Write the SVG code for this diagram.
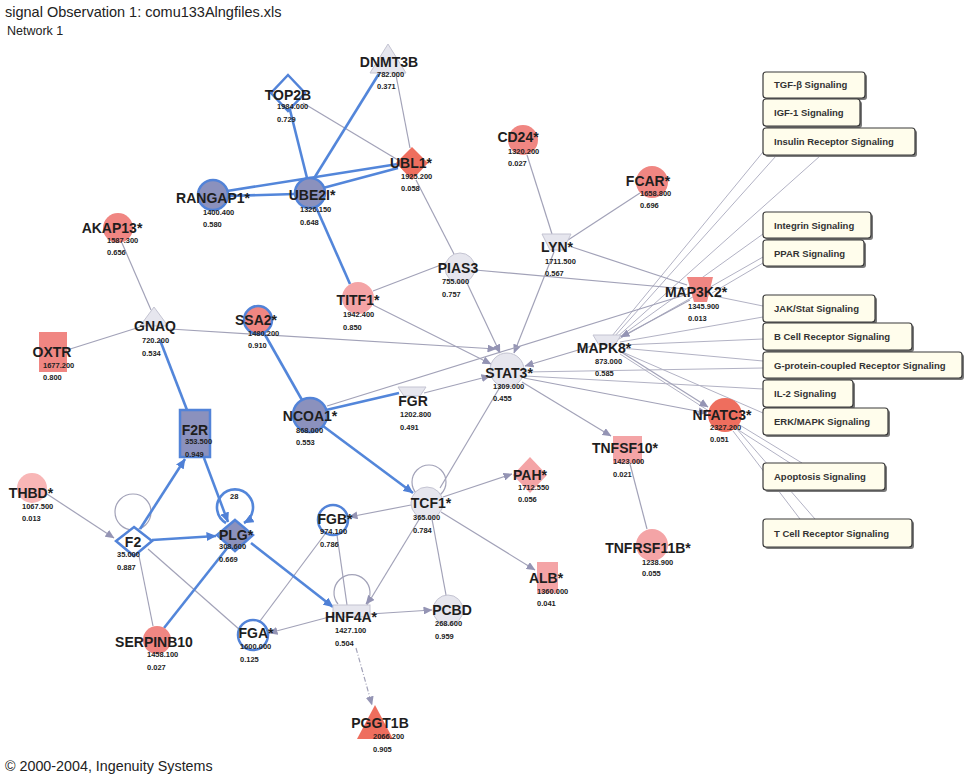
<svg xmlns="http://www.w3.org/2000/svg" width="968" height="776" viewBox="0 0 968 776">
<style>
.hd{font-family:"Liberation Sans",Arial,sans-serif;fill:#222}
.lb{font-family:"Liberation Sans",Arial,sans-serif;font-size:14px;font-weight:bold;fill:#1e1e1e;text-anchor:middle}
.nm{font-family:"Liberation Sans",Arial,sans-serif;font-size:7.5px;font-weight:bold;fill:#222}
.sg{font-family:"Liberation Sans",Arial,sans-serif;font-size:9.5px;font-weight:bold;fill:#333}
.red{fill:#f08682}
.pink{fill:#f4a4a6}
.dred{fill:#ee6e5e}
.gray{fill:#e6e6ee;stroke:#c4c4d2;stroke-width:1}
.bg{fill:#8b91bd;stroke:#5283d8;stroke-width:2.5}
.wb{fill:#ffffff;stroke:#5283d8;stroke-width:2.5}
.rb{fill:#f08682;stroke:#5283d8;stroke-width:2.5}
.e{stroke:#a2a2b8;stroke-width:1.2;fill:none}
.es{stroke:#b2b2c4;stroke-width:1;fill:none}
.eb{stroke:#5386da;stroke-width:2.6;fill:none}
.box{fill:#fffdec;stroke:#3a3a3a;stroke-width:1.2}
.sh{fill:#7a7a7a}
</style>
<defs>
<marker id="ag" markerWidth="9" markerHeight="8" refX="8.5" refY="4" orient="auto" markerUnits="userSpaceOnUse"><path d="M0,0 L9,4 L0,8 Z" fill="#9494b4"/></marker>
<marker id="ab" markerWidth="10" markerHeight="9" refX="9.5" refY="4.5" orient="auto" markerUnits="userSpaceOnUse"><path d="M0,0 L10,4.5 L0,9 Z" fill="#4f80d6"/></marker>
</defs>
<rect width="968" height="776" fill="#ffffff"/>
<text class="hd" x="5" y="17" font-size="14.5">signal Observation 1: comu133Alngfiles.xls</text>
<text class="hd" x="7" y="35" font-size="12.5">Network 1</text>
<text class="hd" x="5" y="771" font-size="14.3">© 2000-2004, Ingenuity Systems</text>

<g id="connectors">
<!-- signaling links -->
<line class="es" x1="612" y1="336" x2="763" y2="152"/>
<line class="es" x1="614" y1="337" x2="776" y2="156"/>
<line class="es" x1="616" y1="338" x2="820" y2="156"/>
<line class="es" x1="618" y1="338" x2="763" y2="234"/>
<line class="es" x1="619" y1="339" x2="763" y2="257"/>
<line class="es" x1="712" y1="293" x2="763" y2="263"/>
<line class="es" x1="714" y1="296" x2="763" y2="306"/>
<line class="es" x1="620" y1="342" x2="763" y2="317"/>
<line class="es" x1="621" y1="345" x2="763" y2="339"/>
<line class="es" x1="621" y1="348" x2="763" y2="361"/>
<line class="es" x1="525" y1="372" x2="763" y2="368"/>
<line class="es" x1="525" y1="376" x2="763" y2="389"/>
<line class="es" x1="620" y1="351" x2="763" y2="413"/>
<line class="es" x1="620" y1="354" x2="790" y2="463"/>
<line class="es" x1="738" y1="424" x2="802" y2="463"/>
<line class="es" x1="736" y1="428" x2="815" y2="519"/>
<line class="es" x1="733" y1="431" x2="800" y2="519"/>
<!-- gray network edges -->
<line class="e" x1="303" y1="103" x2="398" y2="160"/>
<line class="e" x1="395" y1="70" x2="410" y2="148"/>
<line class="e" x1="416" y1="180" x2="454" y2="254"/>
<line class="e" x1="527" y1="155" x2="552" y2="234"/>
<line class="e" x1="640" y1="193" x2="568" y2="240"/>
<line class="e" x1="122" y1="243" x2="151" y2="310"/>
<line class="e" x1="67" y1="350" x2="140" y2="327"/>
<line class="e" x1="170" y1="329" x2="496" y2="349" marker-end="url(#ag)"/>
<line class="e" x1="373" y1="291" x2="446" y2="263"/>
<line class="e" x1="467" y1="283" x2="500" y2="353" marker-end="url(#ag)"/>
<line class="e" x1="475" y1="270" x2="686" y2="289"/>
<line class="e" x1="554" y1="252" x2="514" y2="353" marker-end="url(#ag)"/>
<line class="e" x1="572" y1="247" x2="687" y2="285"/>
<line class="e" x1="373" y1="305" x2="491" y2="364" marker-end="url(#ag)"/>
<line class="e" x1="595" y1="345" x2="525" y2="366" marker-end="url(#ag)"/>
<line class="e" x1="424" y1="393" x2="490" y2="376" marker-end="url(#ag)"/>
<line class="e" x1="327" y1="406" x2="688" y2="294"/>
<line class="e" x1="690" y1="300" x2="621" y2="337" marker-end="url(#ag)"/>
<line class="e" x1="522" y1="382" x2="611" y2="436" marker-end="url(#ag)"/>
<line class="e" x1="618" y1="350" x2="708" y2="407" marker-end="url(#ag)"/>
<line class="e" x1="524" y1="378" x2="707" y2="413" marker-end="url(#ag)"/>
<line class="e" x1="500" y1="387" x2="440" y2="488"/>
<line class="e" x1="630" y1="464" x2="647" y2="529"/>
<line class="e" x1="443" y1="497" x2="512" y2="474" marker-end="url(#ag)"/>
<line class="e" x1="441" y1="512" x2="535" y2="570" marker-end="url(#ag)"/>
<line class="e" x1="411" y1="505" x2="349" y2="517" marker-end="url(#ag)"/>
<line class="e" x1="432" y1="519" x2="446" y2="595"/>
<line class="e" x1="420" y1="518" x2="367" y2="605"/>
<line class="e" x1="337" y1="535" x2="347" y2="605"/>
<line class="e" x1="325" y1="534" x2="260" y2="621"/>
<line class="e" x1="333" y1="616" x2="269" y2="633" marker-end="url(#ag)"/>
<line class="e" x1="370" y1="614" x2="432" y2="610" marker-end="url(#ag)"/>
<line class="e" x1="356" y1="648" x2="372" y2="705" stroke-dasharray="5 2 1 2" marker-end="url(#ag)"/>
<line class="e" x1="148" y1="549" x2="240" y2="630"/>
<line class="e" x1="139" y1="556" x2="153" y2="626"/>
<line class="e" x1="47" y1="494" x2="114" y2="538" marker-end="url(#ag)"/>
<circle class="e" cx="133" cy="512" r="18"/>
<circle class="e" cx="429" cy="482" r="17"/>
<path class="e" d="M338,604 A18,18 0 1 1 366,604" marker-end="url(#ag)"/>
<!-- blue edges -->
<line class="eb" x1="288" y1="102" x2="307" y2="178"/>
<line class="eb" x1="380" y1="72" x2="313" y2="180"/>
<line class="eb" x1="228" y1="196" x2="295" y2="194"/>
<line class="eb" x1="227" y1="191" x2="398" y2="164"/>
<line class="eb" x1="323" y1="188" x2="398" y2="168"/>
<line class="eb" x1="316" y1="207" x2="350" y2="284"/>
<line class="eb" x1="160" y1="340" x2="187" y2="410"/>
<line class="eb" x1="264" y1="333" x2="302" y2="400"/>
<line class="eb" x1="326" y1="410" x2="399" y2="393"/>
<line class="eb" x1="323" y1="426" x2="413" y2="493" marker-end="url(#ab)"/>
<line class="eb" x1="140" y1="529" x2="185" y2="459" marker-end="url(#ab)"/>
<line class="eb" x1="204" y1="458" x2="228" y2="522" marker-end="url(#ab)"/>
<line class="eb" x1="152" y1="540" x2="216" y2="536" marker-end="url(#ab)" stroke-width="3.2"/>
<line class="eb" x1="164" y1="628" x2="228" y2="547"/>
<line class="eb" x1="251" y1="543" x2="333" y2="607" marker-end="url(#ab)"/>
<path class="eb" d="M226,523 A18,18 0 1 1 244,523" marker-end="url(#ab)"/>
</g>

<g id="DNMT3B"><polygon class="gray" points="388,44 406,73 370,73"/><text class="lb" x="389" y="67">DNMT3B</text><text class="nm" x="377" y="77">782.000</text><text class="nm" x="377" y="89">0.371</text></g>
<g id="TOP2B"><polygon class="wb" points="288,75 305,93 288,111 271,93"/><text class="lb" x="288" y="100">TOP2B</text><text class="nm" x="277" y="109">1984.000</text><text class="nm" x="277" y="122">0.729</text></g>
<g id="UBL1"><polygon class="dred" points="412,147 428,163 412,180 396,163"/><text class="lb" x="411" y="168">UBL1*</text><text class="nm" x="401" y="179">1925.200</text><text class="nm" x="401" y="191">0.058</text></g>
<g id="UBE2I"><circle class="bg" cx="310" cy="193" r="15"/><text class="lb" x="312" y="200">UBE2I*</text><text class="nm" x="300" y="212">1326.150</text><text class="nm" x="300" y="225">0.648</text></g>
<g id="RANGAP1"><circle class="bg" cx="213" cy="195" r="15"/><text class="lb" x="213" y="203">RANGAP1*</text><text class="nm" x="203" y="215">1400.400</text><text class="nm" x="203" y="227">0.580</text></g>
<g id="CD24"><circle class="red" cx="523" cy="140" r="15"/><text class="lb" x="518" y="142">CD24*</text><text class="nm" x="508" y="154">1320.200</text><text class="nm" x="508" y="166">0.027</text></g>
<g id="FCAR"><circle class="red" cx="652" cy="182" r="16"/><text class="lb" x="648" y="186">FCAR*</text><text class="nm" x="640" y="196">1658.800</text><text class="nm" x="640" y="208">0.696</text></g>
<g id="LYN"><polygon class="gray" points="542,234 571,234 563,250 550,250"/><text class="lb" x="557" y="252">LYN*</text><text class="nm" x="545" y="264">1711.500</text><text class="nm" x="545" y="276">0.567</text></g>
<g id="PIAS3"><circle class="gray" cx="460" cy="268" r="15"/><text class="lb" x="458" y="273">PIAS3</text><text class="nm" x="442" y="284">755.000</text><text class="nm" x="442" y="297">0.757</text></g>
<g id="AKAP13"><circle class="red" cx="118" cy="228" r="15"/><text class="lb" x="112" y="233">AKAP13*</text><text class="nm" x="107" y="243">1587.300</text><text class="nm" x="107" y="255">0.656</text></g>
<g id="GNAQ"><polygon class="gray" points="154,307 168,326 140,326"/><text class="lb" x="155" y="331">GNAQ</text><text class="nm" x="142" y="343">720.200</text><text class="nm" x="142" y="356">0.534</text></g>
<g id="OXTR"><rect class="red" x="39" y="332" width="28" height="40"/><text class="lb" x="52" y="357">OXTR</text><text class="nm" x="43" y="368">1677.200</text><text class="nm" x="43" y="380">0.800</text></g>
<g id="SSA2"><circle class="rb" cx="258" cy="320" r="14"/><text class="lb" x="256" y="325">SSA2*</text><text class="nm" x="248" y="336">1480.200</text><text class="nm" x="248" y="348">0.910</text></g>
<g id="TITF1"><circle class="pink" cx="358" cy="298" r="16"/><text class="lb" x="358" y="305">TITF1*</text><text class="nm" x="343" y="317">1942.400</text><text class="nm" x="343" y="330">0.850</text></g>
<g id="STAT3"><circle class="gray" cx="507" cy="370" r="17"/><text class="lb" x="509" y="378">STAT3*</text><text class="nm" x="493" y="389">1309.000</text><text class="nm" x="493" y="401">0.455</text></g>
<g id="FGR"><polygon class="gray" points="398,387 426,387 420,396 404,396"/><text class="lb" x="413" y="406">FGR</text><text class="nm" x="400" y="417">1202.800</text><text class="nm" x="400" y="430">0.491</text></g>
<g id="NCOA1"><circle class="bg" cx="310" cy="415" r="17"/><text class="lb" x="310" y="421">NCOA1*</text><text class="nm" x="296" y="433">868.000</text><text class="nm" x="296" y="445">0.553</text></g>
<g id="MAPK8"><polygon class="gray" points="593,335 621,335 615,345 599,345"/><text class="lb" x="604" y="353">MAPK8*</text><text class="nm" x="595" y="364">873.000</text><text class="nm" x="595" y="376">0.585</text></g>
<g id="MAP3K2"><polygon class="red" points="687,277 713,277 707,302 694,302"/><text class="lb" x="696" y="297">MAP3K2*</text><text class="nm" x="688" y="309">1345.900</text><text class="nm" x="688" y="321">0.013</text></g>
<g id="NFATC3"><circle class="dred" cx="725" cy="415" r="17"/><text class="lb" x="722" y="420">NFATC3*</text><text class="nm" x="710" y="430">2327.200</text><text class="nm" x="710" y="442">0.051</text></g>
<g id="TNFSF10"><rect class="pink" x="613" y="436" width="29" height="27"/><text class="lb" x="625" y="453">TNFSF10*</text><text class="nm" x="613" y="464">1423.000</text><text class="nm" x="613" y="477">0.021</text></g>
<g id="PAH"><polygon class="pink" points="530,457 547,475 530,493 513,475"/><text class="lb" x="530" y="480">PAH*</text><text class="nm" x="518" y="490">1712.550</text><text class="nm" x="518" y="502">0.056</text></g>
<g id="ALB"><rect class="pink" x="537" y="562" width="21" height="31"/><text class="lb" x="546" y="583">ALB*</text><text class="nm" x="537" y="594">1360.000</text><text class="nm" x="537" y="606">0.041</text></g>
<g id="TNFRSF11B"><circle class="pink" cx="652" cy="545" r="16"/><text class="lb" x="648" y="553">TNFRSF11B*</text><text class="nm" x="642" y="565">1238.900</text><text class="nm" x="642" y="576">0.055</text></g>
<g id="THBD"><circle fill="#f8b6b6" cx="32" cy="488" r="15"/><text class="lb" x="31" y="498">THBD*</text><text class="nm" x="22" y="509">1067.500</text><text class="nm" x="22" y="521">0.013</text></g>
<g id="F2"><polygon class="wb" points="134,527 152,541 134,556 116,541"/><text class="lb" x="133" y="547">F2</text><text class="nm" x="117" y="557">35.000</text><text class="nm" x="117" y="570">0.887</text></g>
<g id="F2R"><rect class="bg" x="180" y="410" width="30" height="47"/><text class="lb" x="195" y="435">F2R</text><text class="nm" x="185" y="444">353.500</text><text class="nm" x="185" y="457">0.949</text></g>
<g id="PLG"><polygon class="bg" points="235,520 253,535 235,551 217,535"/><text class="lb" x="236" y="540">PLG*</text><text class="nm" x="219" y="549">308.600</text><text class="nm" x="219" y="562">0.669</text><text class="nm" x="230" y="499" font-size="9">28</text></g>
<g id="SERPINB10"><circle class="red" cx="157" cy="640" r="14"/><text class="lb" x="154" y="647">SERPINB10</text><text class="nm" x="147" y="657">1458.100</text><text class="nm" x="147" y="670">0.027</text></g>
<g id="FGA"><circle class="wb" cx="253" cy="635" r="15"/><text class="lb" x="256" y="638">FGA*</text><text class="nm" x="240" y="649">1600.000</text><text class="nm" x="240" y="662">0.125</text></g>
<g id="FGB"><circle class="wb" cx="333" cy="520" r="15"/><text class="lb" x="335" y="524">FGB*</text><text class="nm" x="320" y="534">974.100</text><text class="nm" x="320" y="547">0.786</text></g>
<g id="TCF1"><circle class="gray" cx="427" cy="503" r="16"/><text class="lb" x="431" y="508">TCF1*</text><text class="nm" x="413" y="520">365.000</text><text class="nm" x="413" y="533">0.784</text></g>
<g id="HNF4A"><rect class="gray" x="333" y="605" width="37" height="12"/><text class="lb" x="351" y="622">HNF4A*</text><text class="nm" x="335" y="633">1427.100</text><text class="nm" x="335" y="646">0.504</text></g>
<g id="PCBD"><circle class="gray" cx="448" cy="610" r="15"/><text class="lb" x="452" y="615">PCBD</text><text class="nm" x="435" y="626">268.600</text><text class="nm" x="435" y="639">0.959</text></g>
<g id="PGGT1B"><polygon class="dred" points="375,705 393,739 357,739"/><text class="lb" x="380" y="728">PGGT1B</text><text class="nm" x="373" y="739">2066.200</text><text class="nm" x="373" y="752">0.905</text></g>

<g id="sig-TGF"><rect class="sh" x="765" y="74" width="102" height="26" rx="3"/><rect class="box" x="763" y="72" width="102" height="26" rx="3"/><text class="sg" x="774" y="88">TGF-β Signaling</text></g>
<g id="sig-IGF"><rect class="sh" x="765" y="101" width="97" height="27" rx="3"/><rect class="box" x="763" y="99" width="97" height="27" rx="3"/><text class="sg" x="774" y="116">IGF-1 Signaling</text></g>
<g id="sig-Insulin"><rect class="sh" x="765" y="130" width="152" height="27" rx="3"/><rect class="box" x="763" y="128" width="152" height="27" rx="3"/><text class="sg" x="774" y="145">Insulin Receptor Signaling</text></g>
<g id="sig-Integrin"><rect class="sh" x="765" y="214" width="108" height="26" rx="3"/><rect class="box" x="763" y="212" width="108" height="26" rx="3"/><text class="sg" x="774" y="229">Integrin Signaling</text></g>
<g id="sig-PPAR"><rect class="sh" x="765" y="242" width="101" height="26" rx="3"/><rect class="box" x="763" y="240" width="101" height="26" rx="3"/><text class="sg" x="774" y="257">PPAR Signaling</text></g>
<g id="sig-JAK"><rect class="sh" x="765" y="297" width="112" height="27" rx="3"/><rect class="box" x="763" y="295" width="112" height="27" rx="3"/><text class="sg" x="774" y="312">JAK/Stat Signaling</text></g>
<g id="sig-BCell"><rect class="sh" x="765" y="325" width="149" height="27" rx="3"/><rect class="box" x="763" y="323" width="149" height="27" rx="3"/><text class="sg" x="774" y="340">B Cell Receptor Signaling</text></g>
<g id="sig-GPCR"><rect class="sh" x="765" y="354" width="199" height="26" rx="3"/><rect class="box" x="763" y="352" width="199" height="26" rx="3"/><text class="sg" x="774" y="369">G-protein-coupled Receptor Signaling</text></g>
<g id="sig-IL2"><rect class="sh" x="765" y="382" width="90" height="27" rx="3"/><rect class="box" x="763" y="380" width="90" height="27" rx="3"/><text class="sg" x="774" y="397">IL-2 Signaling</text></g>
<g id="sig-ERK"><rect class="sh" x="765" y="410" width="125" height="27" rx="3"/><rect class="box" x="763" y="408" width="125" height="27" rx="3"/><text class="sg" x="774" y="425">ERK/MAPK Signaling</text></g>
<g id="sig-Apoptosis"><rect class="sh" x="765" y="465" width="122" height="27" rx="3"/><rect class="box" x="763" y="463" width="122" height="27" rx="3"/><text class="sg" x="774" y="480">Apoptosis Signaling</text></g>
<g id="sig-TCell"><rect class="sh" x="765" y="521" width="149" height="28" rx="3"/><rect class="box" x="763" y="519" width="149" height="28" rx="3"/><text class="sg" x="774" y="537">T Cell Receptor Signaling</text></g>
</svg>
